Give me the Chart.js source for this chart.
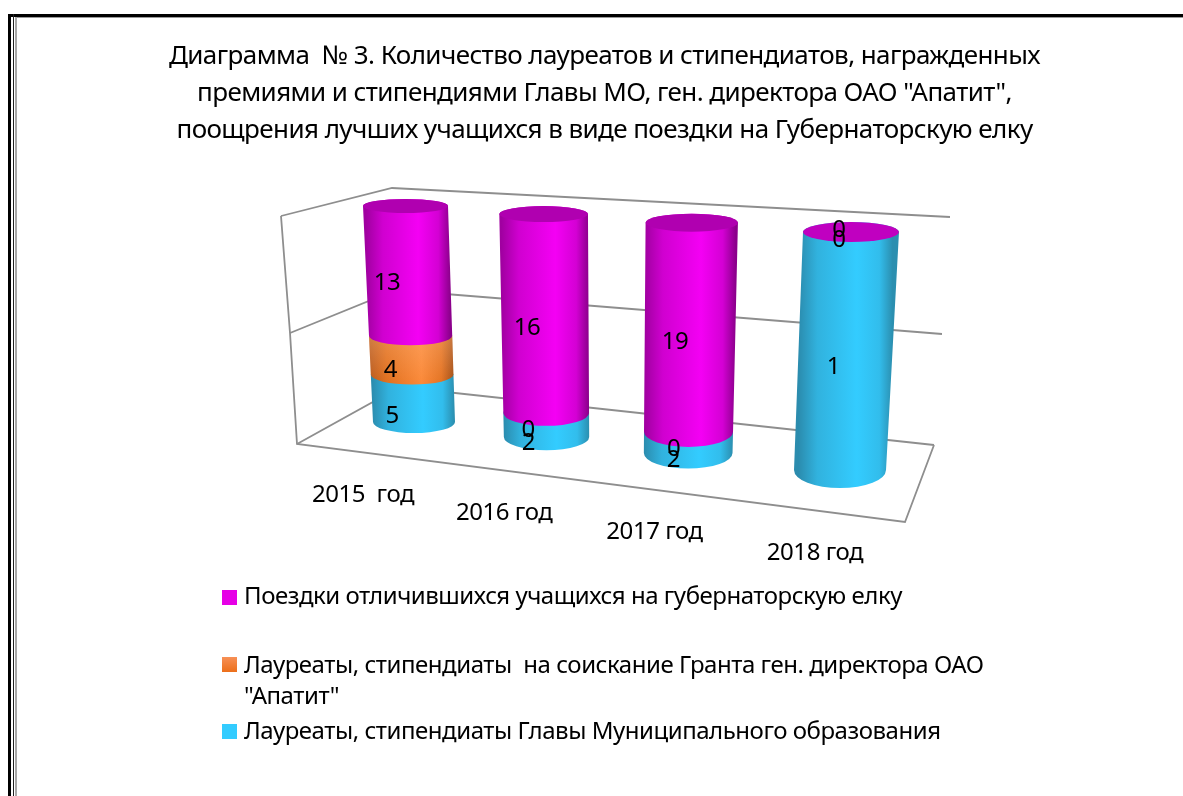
<!DOCTYPE html>
<html lang="ru">
<head>
<meta charset="utf-8">
<title>Диаграмма № 3</title>
<script src="https://cdn.jsdelivr.net/npm/chart.js@4"></script>
<style>
html,body{margin:0;padding:0;background:#fff;overflow:hidden;}
#wrap{position:relative;width:1183px;height:796px;}
canvas{position:absolute;left:0;top:0;}
.b{position:absolute;}
</style>
</head>
<body>
<div id="wrap">
<canvas id="c" width="1183" height="796"></canvas>
<div class="b" style="left:8px;top:14px;width:1175px;height:3px;background:#000"></div>
<div class="b" style="left:15px;top:17px;width:1168px;height:1px;background:#999"></div>
<div class="b" style="left:8px;top:14px;width:3px;height:782px;background:#000"></div>
<div class="b" style="left:13px;top:14px;width:1px;height:782px;background:#222"></div>
<div class="b" style="left:15px;top:17px;width:2px;height:779px;background:#a8a8a8"></div>
</div>
<script>
const categories = ['2015  год', '2016 год', '2017 год', '2018 год'];
const grantLabel = 'Лауреаты, стипендиаты  на соискание Гранта ген. директора ОАО\n"Апатит"';
const headLabel = 'Лауреаты, стипендиаты Главы Муниципального образования';
const tripLabel = 'Поездки отличившихся учащихся на губернаторскую елку';
const headValues = [5, 2, 2, 1];
const grantValues = [4, 0, 0, 0];
const tripValues = [13, 16, 19, 0];
const titleLines = [
  'Диаграмма  № 3. Количество лауреатов и стипендиатов, награжденных',
  'премиями и стипендиями Главы МО, ген. директора ОАО "Апатит",',
  'поощрения лучших учащихся в виде поездки на Губернаторскую елку'
];

const FONT = '"Noto Sans"';
const totals = categories.map((_, i) => headValues[i] + grantValues[i] + tripValues[i]);
const share = arr => arr.map((v, i) => v / totals[i] * 100);

/* 3D view: corners of the plane through the bar axes, (s,t) -> page */
const view = {p00:[414,422], p10:[840,470], p11:[851,232], p01:[405.5,206]};
const radX = {b0:41, b1:46, t0:42.5, t1:48};
const radY = {b0:11, b1:18, t0:7, t1:10};
const wallLevels = [
  {front:[297,444], back:[400,387], right:[934,445]},
  {front:[290,333], back:[396,290], right:[942,334]},
  {front:[281,216], back:[392,188], right:[950,217]}
];
const floorFrontRight = [905,522];

const H = (() => {
  const [x0,y0]=view.p00,[x1,y1]=view.p10,[x2,y2]=view.p11,[x3,y3]=view.p01;
  const dx1=x1-x2,dx2=x3-x2,sx=x0-x1+x2-x3,dy1=y1-y2,dy2=y3-y2,sy=y0-y1+y2-y3;
  const den=dx1*dy2-dx2*dy1;
  const g=(sx*dy2-dx2*sy)/den,h=(dx1*sy-sx*dy1)/den;
  return {a:x1-x0+g*x1,b:x3-x0+h*x3,c:x0,d:y1-y0+g*y1,e:y3-y0+h*y3,f:y0,g,h};
})();
const project=(s,t)=>{const w=H.g*s+H.h*t+1;return [(H.a*s+H.b*t+H.c)/w,(H.d*s+H.e*t+H.f)/w];};
const bil=(r,s,t)=>(r.b0+(r.b1-r.b0)*s)*(1-t)+(r.t0+(r.t1-r.t0)*s)*t;

const bodyStops = {
  head: ['#2b8cae','#31b2de','#33ccff','#32bdec','#2b8fb0'],
  grant:['#b85a1e','#e0701f','#fb8a3a','#e47424','#a85218'],
  trip: ['#a000a0','#d000d0','#f400f4','#d400d4','#8c008c']
};
const stopAt=[0,.2,.62,.86,1];

function segment(ctx,s,t0,t1,stops){
  const [cxb,yb]=project(s,t0),[cxt,yt]=project(s,t1);
  const rb=bil(radX,s,t0),rt=bil(radX,s,t1),ryb=bil(radY,s,t0),ryt=bil(radY,s,t1);
  const gr=ctx.createLinearGradient((cxb+cxt)/2-(rb+rt)/2,0,(cxb+cxt)/2+(rb+rt)/2,0);
  stops.forEach((c,i)=>gr.addColorStop(stopAt[i],c));
  ctx.beginPath();
  ctx.moveTo(cxt-rt,yt);
  ctx.lineTo(cxb-rb,yb);
  ctx.ellipse(cxb,yb,rb,ryb,0,Math.PI,0,true);
  ctx.lineTo(cxt+rt,yt);
  ctx.ellipse(cxt,yt,rt,ryt,0,0,Math.PI,true);
  ctx.closePath();
  ctx.fillStyle=gr;
  ctx.fill();
}

const cylinders = {
  id:'cylinders',
  beforeDraw(chart){ chart.ctx.letterSpacing='-0.58px'; },
  beforeDatasetDraw(){ return false; },
  beforeDatasetsDraw(chart){
    const ctx=chart.ctx,{x:xs,y:ys}=chart.scales;
    const tOf=px=>(ys.bottom-px)/(ys.bottom-ys.top);
    /* frame */
    ctx.save();
    ctx.strokeStyle='#8e8e8e';ctx.lineWidth=1.8;
    ys.ticks.forEach((tk,i)=>{
      const l=wallLevels[i];
      ctx.beginPath();ctx.moveTo(...l.front);ctx.lineTo(...l.back);ctx.lineTo(...l.right);ctx.stroke();
    });
    const lo=wallLevels[0],hi=wallLevels[wallLevels.length-1];
    ctx.beginPath();ctx.moveTo(...hi.front);ctx.lineTo(...wallLevels[1].front);ctx.lineTo(...lo.front);
    ctx.lineTo(...floorFrontRight);ctx.lineTo(...lo.right);ctx.stroke();
    /* bodies, bottom series upward */
    const first=chart.getDatasetMeta(0).data;
    const sOf=px=>(px-first[0].x)/(first[first.length-1].x-first[0].x);
    chart.data.datasets.forEach((ds,di)=>{
      chart.getDatasetMeta(di).data.forEach(el=>{
        const s=sOf(el.x),t0=tOf(el.base),t1=tOf(el.y);
        if(t1-t0<1e-6) return;
        segment(ctx,s,t0,t1,bodyStops[ds.key]);
        if(ds.key==='grant'){
          const [cxb,yb]=project(s,t0),[cxt,yt]=project(s,t1);
          const g=ctx.createLinearGradient(0,yt,0,yb+8);
          g.addColorStop(0,'rgba(255,190,140,.35)');g.addColorStop(1,'rgba(255,190,140,0)');
          ctx.fillStyle=g;ctx.fill();
        }
      });
    });
    /* caps */
    first.forEach((_,i)=>{
      const s=sOf(first[i].x);
      const [cx,cy]=project(s,1);
      ctx.beginPath();ctx.ellipse(cx,cy,bil(radX,s,1),bil(radY,s,1),0,0,Math.PI*2);
      ctx.fillStyle=tripValues[i]?'#b000b0':'#c000c0';ctx.fill();
    });
    ctx.restore();
  },
  afterDatasetsDraw(chart){
    const ctx=chart.ctx,{x:xs,y:ys}=chart.scales;
    const tOf=px=>(ys.bottom-px)/(ys.bottom-ys.top);
    const first=chart.getDatasetMeta(0).data;
    const sOf=px=>(px-first[0].x)/(first[first.length-1].x-first[0].x);
    ctx.save();
    ctx.fillStyle='#000';ctx.textAlign='center';ctx.textBaseline='middle';
    ctx.font='24px '+FONT;
    ctx.letterSpacing='-0.46px';
    /* data labels */
    chart.data.datasets.forEach((ds,di)=>{
      chart.getDatasetMeta(di).data.forEach((el,i)=>{
        const s=sOf(el.x),tm=(tOf(el.base)+tOf(el.y))/2;
        const [px,py]=project(s,tm);
        const atTop=di===chart.data.datasets.length-1&&ds.raw[i]===0;
        ctx.fillText(String(ds.raw[i]),px-21+9*s,py+18.5-10*tm-(atTop?10:0));
      });
    });
    /* category labels */
    categories.forEach((_,i)=>{
      const s=sOf(first[i].x);
      const [px,py]=project(s,0);
      ctx.fillText(xs.getLabelForValue(i),px-51+26*s,py+73+10*s);
    });
    /* legend */
    ctx.textAlign='left';
    const rows=[[2,590,[597]],[1,657,[666,697]],[0,724,[732]]];
    rows.forEach(([di,sy,ys2])=>{
      const ds=chart.data.datasets[di];
      const g=ctx.createLinearGradient(0,sy,0,sy+15);
      g.addColorStop(0,ds.swatch[0]);g.addColorStop(1,ds.swatch[1]);
      ctx.fillStyle=g;ctx.fillRect(222,sy,15,15);
      ctx.fillStyle='#000';
      ds.label.split('\n').forEach((ln,k)=>ctx.fillText(ln,244,ys2[k]));
    });
    ctx.restore();
  }
};

new Chart(document.getElementById('c'),{
  type:'bar',
  data:{labels:categories,datasets:[
    {key:'head',label:headLabel,raw:headValues,data:share(headValues),backgroundColor:'#33ccff',swatch:['#33ccff','#33ccff']},
    {key:'grant',label:grantLabel,raw:grantValues,data:share(grantValues),backgroundColor:'#f58030',swatch:['#f79056','#ec6f1a']},
    {key:'trip',label:tripLabel,raw:tripValues,data:share(tripValues),backgroundColor:'#e600e6',swatch:['#e600e6','#e600e6']}
  ]},
  plugins:[cylinders],
  options:{
    responsive:false,animation:false,
    layout:{padding:{left:26,right:0,top:38,bottom:300}},
    plugins:{
      legend:{display:false},tooltip:{enabled:false},
      title:{display:true,text:titleLines,color:'#000',padding:{top:0,bottom:20},
        font:{family:FONT,size:26,weight:'normal',lineHeight:1.42}}
    },
    scales:{
      x:{stacked:true,display:false},
      y:{stacked:true,display:false,min:0,max:100,ticks:{stepSize:50}}
    }
  }
});
</script>
</body>
</html>
